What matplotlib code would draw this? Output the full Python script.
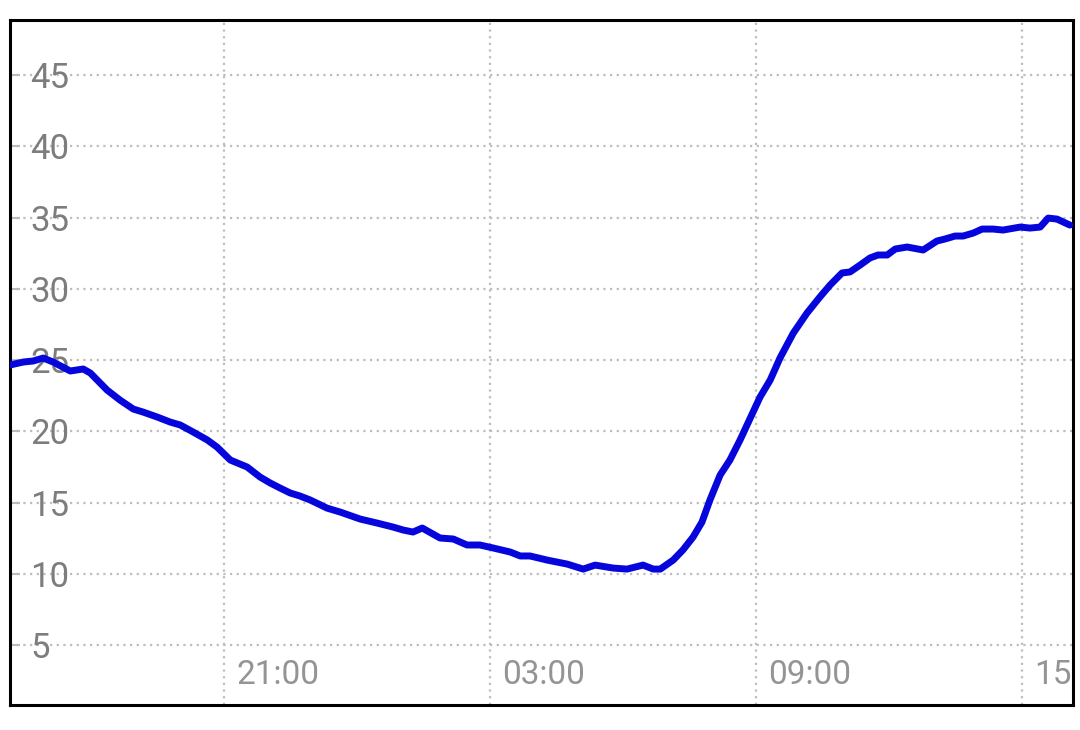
import matplotlib
matplotlib.use("Agg")
import matplotlib.pyplot as plt
import matplotlib.transforms as mtransforms

plt.rcParams['font.family'] = ['Roboto', 'DejaVu Sans']

# hours since midnight of day one (24+ = next day)
hours = [16.17, 16.47, 16.69, 16.92, 17.14, 17.53, 17.82, 17.98, 18.36, 18.65,
         18.95, 19.17, 19.49, 19.78, 20.01, 20.30, 20.62, 20.84, 21.14, 21.52,
         21.81, 22.04, 22.26, 22.49, 22.71, 22.94, 23.32, 23.62, 24.07, 24.45,
         24.81, 25.04, 25.26, 25.47, 25.87, 26.17, 26.48, 26.77, 27.07, 27.45,
         27.68, 27.90, 28.29, 28.74, 29.10, 29.37, 29.78, 30.09, 30.45, 30.68,
         30.84, 31.13, 31.35, 31.58, 31.78, 31.96, 32.19, 32.41, 32.64, 32.87,
         33.09, 33.32, 33.54, 33.84, 34.15, 34.44, 34.67, 34.94, 35.12, 35.35,
         35.57, 35.75, 35.96, 36.14, 36.41, 36.77, 37.08, 37.26, 37.49, 37.67,
         37.90, 38.10, 38.35, 38.57, 38.96, 39.18, 39.41, 39.59, 39.79, 40.08]
values = [24.65, 24.86, 24.93, 25.14, 24.86, 24.23, 24.37, 24.09, 22.89, 22.19,
          21.56, 21.35, 21.00, 20.65, 20.44, 19.95, 19.39, 18.89, 17.98, 17.49,
          16.79, 16.37, 16.02, 15.67, 15.46, 15.18, 14.61, 14.33, 13.84, 13.56,
          13.28, 13.07, 12.93, 13.21, 12.51, 12.44, 12.02, 12.02, 11.81, 11.53,
          11.25, 11.25, 10.96, 10.68, 10.33, 10.61, 10.40, 10.33, 10.61, 10.33,
          10.33, 10.96, 11.67, 12.58, 13.63, 15.18, 16.93, 17.98, 19.39, 20.93,
          22.40, 23.60, 25.14, 26.89, 28.30, 29.42, 30.26, 31.11, 31.18, 31.67,
          32.16, 32.37, 32.37, 32.79, 32.93, 32.72, 33.35, 33.49, 33.70, 33.70,
          33.91, 34.19, 34.19, 34.12, 34.33, 34.26, 34.33, 34.96, 34.89, 34.47]

x_ticks = [21, 27, 33, 39]
x_labels = ['21:00', '03:00', '09:00', '15:00']
y_ticks = [5, 10, 15, 20, 25, 30, 35, 40, 45]

fig = plt.figure(figsize=(10.8, 7.3), dpi=100)
ax = fig.add_axes([0.0093, 0.0342, 0.9842, 0.9384])

ax.plot(hours, values, color='#0606dc', lw=5, solid_joinstyle='round',
        solid_capstyle='round', zorder=3)

ax.set_xlim(16.17, 40.15)
ax.set_ylim(0.79, 48.86)
ax.set_xticks(x_ticks)
ax.set_yticks(y_ticks)
ax.grid(True, color='#bdbdbd', linestyle=(0, (1, 2)), lw=1.6)
ax.tick_params(axis='x', length=0, labelbottom=False)
ax.tick_params(axis='y', direction='in', length=7, width=1.5, color='#bbbbbb',
               labelleft=False)

for s in ax.spines.values():
    s.set_color('black')
    s.set_linewidth(2.2)

# y labels sit inside the plot, left aligned
ytrans = ax.get_yaxis_transform() + mtransforms.ScaledTranslation(20 / 100, 0, fig.dpi_scale_trans)
for v in y_ticks:
    ax.text(0, v, str(v), transform=ytrans, ha='left', va='center_baseline',
            fontsize=25, color='#7d7d7d', zorder=2)

# x labels inside at the bottom, right of their gridline
xtrans = ax.get_xaxis_transform() + mtransforms.ScaledTranslation(12 / 100, 14 / 100, fig.dpi_scale_trans)
for t, lab in zip(x_ticks, x_labels):
    ax.text(t, 0, lab, transform=xtrans, ha='left', va='bottom',
            fontsize=24, color='#949494', clip_on=True, zorder=2)

fig.savefig('out.png', dpi=100)
